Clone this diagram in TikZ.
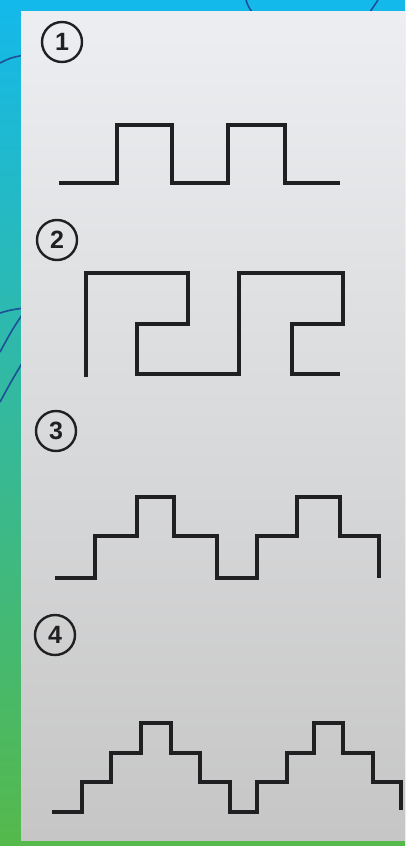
\documentclass[tikz,border=0pt]{standalone}
\usepackage{fontspec}
\setsansfont{Liberation Sans}
\usepackage{xcolor}
\usetikzlibrary{positioning}

\definecolor{stripTop}{RGB}{20,185,235}
\definecolor{stripBot}{RGB}{85,185,75}
\definecolor{paperTop}{RGB}{236,238,241}
\definecolor{paperBot}{RGB}{198,198,198}
\definecolor{ink}{RGB}{32,32,34}
\definecolor{arcblue}{RGB}{30,80,150}

\begin{document}
\begin{tikzpicture}[
  x=1pt, y=-1pt,
  num/.style={
    circle,
    draw=ink,
    line width=2.4pt,
    minimum size=40pt,
    inner sep=0pt,
    text=ink,
    font=\fontsize{25}{25}\selectfont\sffamily\bfseries
  },
  wave/.style={draw=ink, line width=3.4pt, line join=miter},
  deco/.style={draw=arcblue, line width=1.6pt}
]
  \useasboundingbox (0,0) rectangle (405,846);

  % Background
  \shade[top color=stripTop, bottom color=stripBot] (0,0) rectangle (405,846);
  \draw[deco] (0,63) .. controls (10,58) .. (24,55);
  \draw[deco] (0,313) .. controls (10,310) .. (24,308);
  \draw[deco] (0,352) .. controls (12,330) .. (24,312);
  \draw[deco] (0,402) .. controls (12,380) .. (24,360);
  \draw[deco] (246,0) .. controls (248,6) .. (252,12);
  \draw[deco] (378,0) .. controls (374,6) .. (370,12);
  \shade[top color=paperTop, bottom color=paperBot] (21,11) rectangle (405,840);

  % Nodes
  \node (n1) [num] at (62,42)  {1};
  \node (n2) [num] at (57,240) {2};
  \node (n3) [num] at (56,431) {3};
  \node (n4) [num] at (55,635) {4};

  % Figure 1
  \draw[wave] (59,183) -- (117,183) -- (117,125) -- (172,125) -- (172,183)
    -- (228,183) -- (228,125) -- (285,125) -- (285,183) -- (340,183);

  % Figure 2
  \draw[wave] (86,377) -- (86,273) -- (188,273) -- (188,324) -- (137,324)
    -- (137,374) -- (239,374) -- (239,273) -- (343,273) -- (343,324)
    -- (292,324) -- (292,374) -- (340,374);

  % Figure 3
  \draw[wave] (55,578) -- (95,578) -- (95,536) -- (137,536) -- (137,497)
    -- (174,497) -- (174,536) -- (217,536) -- (217,578) -- (257,578)
    -- (257,536) -- (297,536) -- (297,497) -- (340,497) -- (340,536)
    -- (379,536) -- (379,578);

  % Figure 4
  \draw[wave] (52,812) -- (82,812) -- (82,782) -- (111,782) -- (111,753)
    -- (141,753) -- (141,723) -- (171,723) -- (171,753) -- (200,753)
    -- (200,782) -- (230,782) -- (230,812) -- (257,812) -- (257,782)
    -- (287,782) -- (287,753) -- (314,753) -- (314,723) -- (343,723)
    -- (343,753) -- (373,753) -- (373,782) -- (401,782) -- (401,810);

\end{tikzpicture}
\end{document}
